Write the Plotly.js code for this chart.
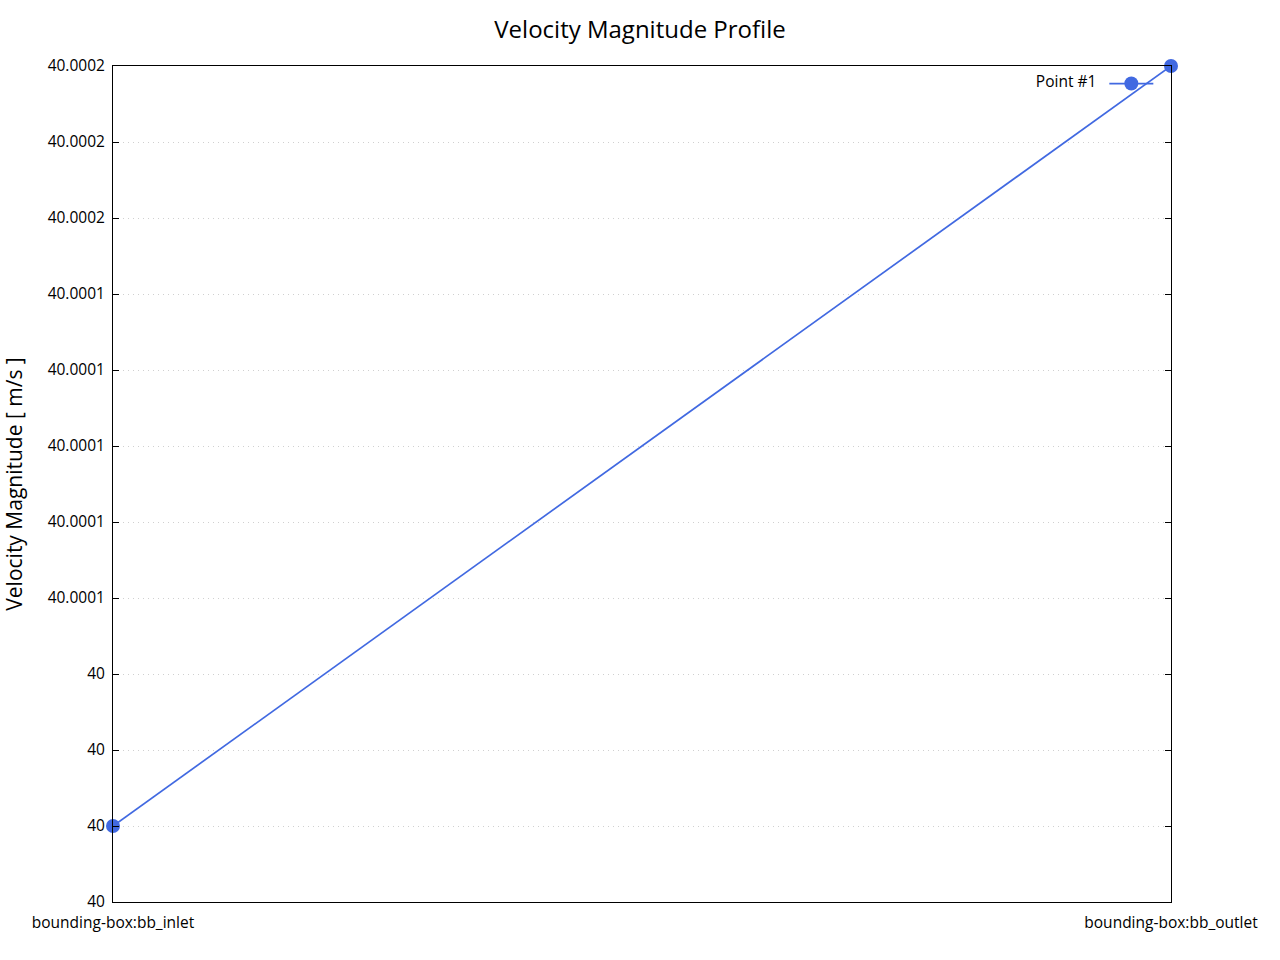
<!DOCTYPE html>
<html>
<head>
<meta charset="utf-8">
<script src="https://cdn.plot.ly/plotly-3.0.1.min.js"></script>
<style>html,body{margin:0;padding:0;background:#fff;}#chart{width:1280px;height:960px;}</style>
</head>
<body>
<div id="chart"></div>
<script>
var categories = ['bounding-box:bb_inlet', 'bounding-box:bb_outlet'];
var seriesName = 'Point #1';
var velocity = [40.00002, 40.00022];
var yTickVals = [40.00000, 40.00002, 40.00004, 40.00006, 40.00008, 40.00010, 40.00012, 40.00014, 40.00016, 40.00018, 40.00020, 40.00022];
var yTickText = ['40', '40', '40', '40', '40.0001', '40.0001', '40.0001', '40.0001', '40.0001', '40.0002', '40.0002', '40.0002'];

var font = '"Open Sans", "Noto Sans", "DejaVu Sans", sans-serif';
var blue = '#4169E1';

var trace = {
  x: categories,
  y: velocity,
  type: 'scatter',
  mode: 'lines+markers',
  name: ' ',
  line: {color: blue, width: 1.7},
  marker: {color: blue, size: 14},
  cliponaxis: false,
  showlegend: true
};

var layout = {
  width: 1280, height: 960,
  paper_bgcolor: '#fff', plot_bgcolor: '#fff',
  margin: {l: 113, r: 109, t: 66, b: 58},
  font: {family: font, size: 15.5, color: '#000'},
  title: {text: 'Velocity Magnitude Profile', font: {family: font, size: 24, color: '#000'}, x: 0.5, xanchor: 'center', y: 0.969, yanchor: 'middle'},
  xaxis: {
    type: 'category', range: [0, 1],
    showline: true, linecolor: '#000', linewidth: 1, mirror: true,
    showgrid: false, zeroline: false, ticks: '',
    ticklabelstandoff: 6,
    tickfont: {family: font, size: 15.5, color: '#000'}
  },
  yaxis: {
    range: [40.00000, 40.00022],
    tickmode: 'array', tickvals: yTickVals, ticktext: yTickText,
    showline: true, linecolor: '#000', linewidth: 1, mirror: 'ticks',
    ticks: 'inside', ticklen: 6, tickcolor: '#000',
    showgrid: true, gridcolor: '#d0d0d0', griddash: '1px,4px', gridwidth: 1,
    zeroline: false,
    ticklabelstandoff: 4,
    tickfont: {family: font, size: 15.5, color: '#000'},
    title: {text: 'Velocity Magnitude [ m/s ]', font: {family: font, size: 21, color: '#000'}, standoff: 20}
  },
  showlegend: true,
  legend: {
    orientation: 'h',
    x: 0.997, xanchor: 'right', y: 0.9785, yanchor: 'middle',
    bgcolor: 'rgba(0,0,0,0)',
    font: {family: font, size: 15.5, color: '#000'},
    title: {text: seriesName, side: 'left', font: {family: font, size: 15.5, color: '#000'}},
    itemwidth: 44
  }
};

Plotly.newPlot('chart', [trace], layout, {displayModeBar: false, staticPlot: true});
</script>
</body>
</html>
